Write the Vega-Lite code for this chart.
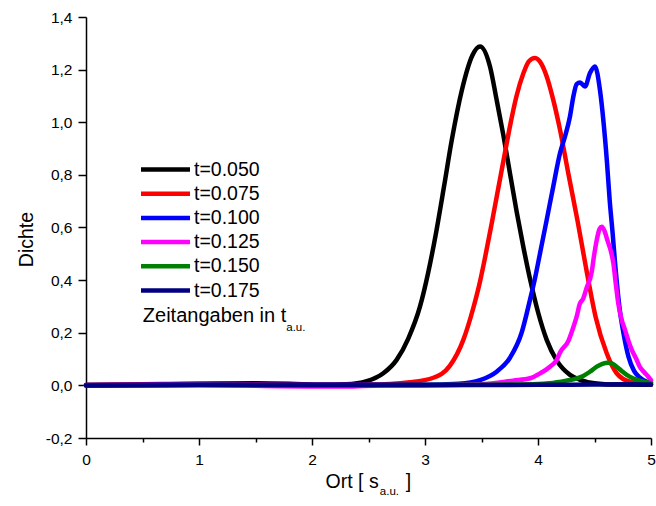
{
  "$schema": "https://vega.github.io/schema/vega-lite/v6.json",
  "width": 565,
  "height": 421,
  "autosize": {"type": "none"},
  "padding": {"left": 86, "top": 17, "right": 5, "bottom": 68},
  "background": "white",
  "config": {
    "view": {"stroke": null},
    "font": "Liberation Sans",
    "axis": {
      "grid": false,
      "domainColor": "black",
      "domainWidth": 1.5,
      "tickColor": "black",
      "tickWidth": 1.5,
      "labelColor": "black",
      "labelFont": "Liberation Sans",
      "labelFontSize": 15.5,
      "titleFont": "Liberation Sans",
      "titleColor": "black",
      "titleFontWeight": "normal",
      "titleFontSize": 19.5
    }
  },
  "datasets": {
    "curves": [
      {"s": "t=0.050", "x": 0, "y": 0.001},
      {"s": "t=0.050", "x": 0.5, "y": 0.003},
      {"s": "t=0.050", "x": 1.0, "y": 0.006},
      {"s": "t=0.050", "x": 1.5, "y": 0.008},
      {"s": "t=0.050", "x": 1.8, "y": 0.006},
      {"s": "t=0.050", "x": 2.1, "y": 0.002},
      {"s": "t=0.050", "x": 2.3, "y": 0.004},
      {"s": "t=0.050", "x": 2.484, "y": 0.016},
      {"s": "t=0.050", "x": 2.631, "y": 0.046},
      {"s": "t=0.050", "x": 2.749, "y": 0.097},
      {"s": "t=0.050", "x": 2.852, "y": 0.178},
      {"s": "t=0.050", "x": 2.956, "y": 0.3},
      {"s": "t=0.050", "x": 3.029, "y": 0.43},
      {"s": "t=0.050", "x": 3.097, "y": 0.578},
      {"s": "t=0.050", "x": 3.168, "y": 0.755},
      {"s": "t=0.050", "x": 3.236, "y": 0.93},
      {"s": "t=0.050", "x": 3.325, "y": 1.12},
      {"s": "t=0.050", "x": 3.42, "y": 1.255},
      {"s": "t=0.050", "x": 3.487, "y": 1.288},
      {"s": "t=0.050", "x": 3.575, "y": 1.212},
      {"s": "t=0.050", "x": 3.634, "y": 1.085},
      {"s": "t=0.050", "x": 3.693, "y": 0.952},
      {"s": "t=0.050", "x": 3.752, "y": 0.806},
      {"s": "t=0.050", "x": 3.811, "y": 0.66},
      {"s": "t=0.050", "x": 3.870, "y": 0.527},
      {"s": "t=0.050", "x": 3.929, "y": 0.405},
      {"s": "t=0.050", "x": 4.003, "y": 0.274},
      {"s": "t=0.050", "x": 4.077, "y": 0.173},
      {"s": "t=0.050", "x": 4.165, "y": 0.095},
      {"s": "t=0.050", "x": 4.283, "y": 0.040},
      {"s": "t=0.050", "x": 4.372, "y": 0.021},
      {"s": "t=0.050", "x": 4.5, "y": 0.008},
      {"s": "t=0.050", "x": 4.7, "y": 0.003},
      {"s": "t=0.050", "x": 5.0, "y": 0.002},

      {"s": "t=0.075", "x": 0, "y": 0.001},
      {"s": "t=0.075", "x": 0.5, "y": 0.004},
      {"s": "t=0.075", "x": 1.0, "y": 0.006},
      {"s": "t=0.075", "x": 1.5, "y": 0.004},
      {"s": "t=0.075", "x": 2.0, "y": 0.002},
      {"s": "t=0.075", "x": 2.5, "y": 0.003},
      {"s": "t=0.075", "x": 2.867, "y": 0.012},
      {"s": "t=0.075", "x": 3.074, "y": 0.029},
      {"s": "t=0.075", "x": 3.221, "y": 0.075},
      {"s": "t=0.075", "x": 3.339, "y": 0.173},
      {"s": "t=0.075", "x": 3.428, "y": 0.295},
      {"s": "t=0.075", "x": 3.487, "y": 0.395},
      {"s": "t=0.075", "x": 3.531, "y": 0.485},
      {"s": "t=0.075", "x": 3.590, "y": 0.615},
      {"s": "t=0.075", "x": 3.649, "y": 0.75},
      {"s": "t=0.075", "x": 3.708, "y": 0.885},
      {"s": "t=0.075", "x": 3.752, "y": 0.985},
      {"s": "t=0.075", "x": 3.810, "y": 1.1},
      {"s": "t=0.075", "x": 3.870, "y": 1.185},
      {"s": "t=0.075", "x": 3.92, "y": 1.232},
      {"s": "t=0.075", "x": 3.973, "y": 1.244},
      {"s": "t=0.075", "x": 4.03, "y": 1.222},
      {"s": "t=0.075", "x": 4.077, "y": 1.174},
      {"s": "t=0.075", "x": 4.135, "y": 1.085},
      {"s": "t=0.075", "x": 4.195, "y": 0.971},
      {"s": "t=0.075", "x": 4.268, "y": 0.806},
      {"s": "t=0.075", "x": 4.350, "y": 0.625},
      {"s": "t=0.075", "x": 4.430, "y": 0.435},
      {"s": "t=0.075", "x": 4.510, "y": 0.26},
      {"s": "t=0.075", "x": 4.608, "y": 0.122},
      {"s": "t=0.075", "x": 4.696, "y": 0.046},
      {"s": "t=0.075", "x": 4.814, "y": 0.014},
      {"s": "t=0.075", "x": 5.0, "y": 0.004},

      {"s": "t=0.100", "x": 0, "y": 0.001},
      {"s": "t=0.100", "x": 1.0, "y": 0.003},
      {"s": "t=0.100", "x": 2.0, "y": 0.002},
      {"s": "t=0.100", "x": 3.0, "y": 0.002},
      {"s": "t=0.100", "x": 3.3, "y": 0.006},
      {"s": "t=0.100", "x": 3.487, "y": 0.02},
      {"s": "t=0.100", "x": 3.634, "y": 0.052},
      {"s": "t=0.100", "x": 3.752, "y": 0.105},
      {"s": "t=0.100", "x": 3.855, "y": 0.2},
      {"s": "t=0.100", "x": 3.929, "y": 0.325},
      {"s": "t=0.100", "x": 3.975, "y": 0.41},
      {"s": "t=0.100", "x": 4.018, "y": 0.502},
      {"s": "t=0.100", "x": 4.077, "y": 0.629},
      {"s": "t=0.100", "x": 4.135, "y": 0.756},
      {"s": "t=0.100", "x": 4.195, "y": 0.883},
      {"s": "t=0.100", "x": 4.239, "y": 0.946},
      {"s": "t=0.100", "x": 4.283, "y": 1.022},
      {"s": "t=0.100", "x": 4.313, "y": 1.098},
      {"s": "t=0.100", "x": 4.342, "y": 1.145},
      {"s": "t=0.100", "x": 4.372, "y": 1.151},
      {"s": "t=0.100", "x": 4.416, "y": 1.136},
      {"s": "t=0.100", "x": 4.460, "y": 1.187},
      {"s": "t=0.100", "x": 4.504, "y": 1.212},
      {"s": "t=0.100", "x": 4.549, "y": 1.12},
      {"s": "t=0.100", "x": 4.58, "y": 1.0},
      {"s": "t=0.100", "x": 4.61, "y": 0.85},
      {"s": "t=0.100", "x": 4.635, "y": 0.70},
      {"s": "t=0.100", "x": 4.66, "y": 0.58},
      {"s": "t=0.100", "x": 4.685, "y": 0.45},
      {"s": "t=0.100", "x": 4.72, "y": 0.30},
      {"s": "t=0.100", "x": 4.76, "y": 0.19},
      {"s": "t=0.100", "x": 4.80, "y": 0.11},
      {"s": "t=0.100", "x": 4.85, "y": 0.055},
      {"s": "t=0.100", "x": 4.90, "y": 0.03},
      {"s": "t=0.100", "x": 4.96, "y": 0.014},
      {"s": "t=0.100", "x": 5.0, "y": 0.01},

      {"s": "t=0.125", "x": 0, "y": 0.0},
      {"s": "t=0.125", "x": 1.0, "y": 0.001},
      {"s": "t=0.125", "x": 2.0, "y": -0.004},
      {"s": "t=0.125", "x": 2.3, "y": -0.004},
      {"s": "t=0.125", "x": 2.6, "y": 0.0},
      {"s": "t=0.125", "x": 3.0, "y": 0.0},
      {"s": "t=0.125", "x": 3.5, "y": 0.004},
      {"s": "t=0.125", "x": 3.78, "y": 0.018},
      {"s": "t=0.125", "x": 3.93, "y": 0.027},
      {"s": "t=0.125", "x": 4.02, "y": 0.046},
      {"s": "t=0.125", "x": 4.106, "y": 0.071},
      {"s": "t=0.125", "x": 4.166, "y": 0.097},
      {"s": "t=0.125", "x": 4.195, "y": 0.125},
      {"s": "t=0.125", "x": 4.27, "y": 0.17},
      {"s": "t=0.125", "x": 4.30, "y": 0.205},
      {"s": "t=0.125", "x": 4.342, "y": 0.261},
      {"s": "t=0.125", "x": 4.37, "y": 0.31},
      {"s": "t=0.125", "x": 4.40, "y": 0.33},
      {"s": "t=0.125", "x": 4.43, "y": 0.37},
      {"s": "t=0.125", "x": 4.475, "y": 0.43},
      {"s": "t=0.125", "x": 4.495, "y": 0.49},
      {"s": "t=0.125", "x": 4.52, "y": 0.553},
      {"s": "t=0.125", "x": 4.545, "y": 0.595},
      {"s": "t=0.125", "x": 4.565, "y": 0.603},
      {"s": "t=0.125", "x": 4.59, "y": 0.585},
      {"s": "t=0.125", "x": 4.615, "y": 0.55},
      {"s": "t=0.125", "x": 4.645, "y": 0.51},
      {"s": "t=0.125", "x": 4.667, "y": 0.464},
      {"s": "t=0.125", "x": 4.69, "y": 0.38},
      {"s": "t=0.125", "x": 4.71, "y": 0.312},
      {"s": "t=0.125", "x": 4.74, "y": 0.25},
      {"s": "t=0.125", "x": 4.77, "y": 0.211},
      {"s": "t=0.125", "x": 4.80, "y": 0.17},
      {"s": "t=0.125", "x": 4.83, "y": 0.135},
      {"s": "t=0.125", "x": 4.87, "y": 0.10},
      {"s": "t=0.125", "x": 4.90, "y": 0.071},
      {"s": "t=0.125", "x": 4.94, "y": 0.05},
      {"s": "t=0.125", "x": 4.976, "y": 0.033},
      {"s": "t=0.125", "x": 5.0, "y": 0.02},

      {"s": "t=0.150", "x": 0, "y": 0.0},
      {"s": "t=0.150", "x": 1.0, "y": 0.001},
      {"s": "t=0.150", "x": 2.0, "y": 0.0},
      {"s": "t=0.150", "x": 3.0, "y": 0.001},
      {"s": "t=0.150", "x": 3.5, "y": 0.002},
      {"s": "t=0.150", "x": 4.0, "y": 0.005},
      {"s": "t=0.150", "x": 4.1, "y": 0.008},
      {"s": "t=0.150", "x": 4.25, "y": 0.018},
      {"s": "t=0.150", "x": 4.33, "y": 0.025},
      {"s": "t=0.150", "x": 4.40, "y": 0.036},
      {"s": "t=0.150", "x": 4.46, "y": 0.052},
      {"s": "t=0.150", "x": 4.52, "y": 0.071},
      {"s": "t=0.150", "x": 4.57, "y": 0.082},
      {"s": "t=0.150", "x": 4.622, "y": 0.086},
      {"s": "t=0.150", "x": 4.66, "y": 0.082},
      {"s": "t=0.150", "x": 4.696, "y": 0.071},
      {"s": "t=0.150", "x": 4.74, "y": 0.055},
      {"s": "t=0.150", "x": 4.785, "y": 0.04},
      {"s": "t=0.150", "x": 4.84, "y": 0.027},
      {"s": "t=0.150", "x": 4.90, "y": 0.018},
      {"s": "t=0.150", "x": 5.0, "y": 0.008},

      {"s": "t=0.175", "x": 0, "y": 0.0},
      {"s": "t=0.175", "x": 1.0, "y": 0.001},
      {"s": "t=0.175", "x": 2.0, "y": 0.001},
      {"s": "t=0.175", "x": 3.0, "y": 0.001},
      {"s": "t=0.175", "x": 4.0, "y": 0.002},
      {"s": "t=0.175", "x": 4.5, "y": 0.003},
      {"s": "t=0.175", "x": 4.8, "y": 0.004},
      {"s": "t=0.175", "x": 5.0, "y": 0.003}
    ]
  },
  "layer": [
    {
      "data": {"name": "curves"},
      "mark": {"type": "line", "strokeWidth": 4.5, "interpolate": "monotone", "strokeCap": "round", "strokeJoin": "round"},
      "encoding": {
        "x": {
          "field": "x", "type": "quantitative",
          "scale": {"domain": [0, 5], "nice": false, "zero": false},
          "axis": {
            "title": null,
            "values": [0, 0.5, 1, 1.5, 2, 2.5, 3, 3.5, 4, 4.5, 5],
            "labelExpr": "datum.value % 1 == 0 ? format(datum.value, 'd') : ''",
            "tickSize": {"condition": {"test": "datum.value % 1 == 0", "value": 7}, "value": 4},
            "labelPadding": 7,
            "labelFlush": false,
            "labelOverlap": false
          }
        },
        "y": {
          "field": "y", "type": "quantitative",
          "scale": {"domain": [-0.2, 1.4], "nice": false, "zero": false},
          "axis": {
            "title": "Dichte",
            "titleBaseline": "alphabetic",
            "titleX": -54,
            "titleY": 222,
            "values": [-0.2, -0.1, 0, 0.1, 0.2, 0.3, 0.4, 0.5, 0.6, 0.7, 0.8, 0.9, 1, 1.1, 1.2, 1.3, 1.4],
            "labelExpr": "abs(datum.value * 5 - round(datum.value * 5)) < 0.001 ? replace(replace(format(datum.value, '.1f'), '.', ','), '−', '-') : ''",
            "tickSize": {"condition": {"test": "abs(datum.value * 5 - round(datum.value * 5)) < 0.001", "value": 8}, "value": 4.5},
            "labelPadding": 6,
            "labelFlush": false,
            "labelOverlap": false
          }
        },
        "color": {
          "field": "s", "type": "nominal",
          "scale": {
            "domain": ["t=0.050", "t=0.075", "t=0.100", "t=0.125", "t=0.150", "t=0.175"],
            "range": ["#000000", "#ff0000", "#0000ff", "#ff00ff", "#008000", "#000080"]
          },
          "legend": {
            "title": null,
            "orient": "none",
            "legendX": 67,
            "legendY": 140,
            "symbolType": "M-2.5,0H2.5",
            "symbolSize": 384,
            "symbolStrokeWidth": 4.5,
            "labelFont": "Liberation Sans",
            "labelFontSize": 19.5,
            "labelColor": "black",
            "labelOffset": 16,
            "rowPadding": 2.2
          }
        }
      }
    },
    {
      "data": {"values": [{}]},
      "mark": {"type": "text", "align": "right", "baseline": "alphabetic", "fontSize": 20, "font": "Liberation Sans", "color": "black"},
      "encoding": {"x": {"datum": 1.772}, "y": {"datum": 0.242}, "text": {"value": "Zeitangaben in t"}}
    },
    {
      "data": {"values": [{}]},
      "mark": {"type": "text", "align": "left", "baseline": "alphabetic", "fontSize": 11.5, "font": "Liberation Sans", "color": "black"},
      "encoding": {"x": {"datum": 1.772}, "y": {"datum": 0.207}, "text": {"value": "a.u."}}
    },
    {
      "data": {"values": [{}]},
      "mark": {"type": "text", "align": "right", "baseline": "alphabetic", "fontSize": 19.5, "font": "Liberation Sans", "color": "black"},
      "encoding": {"x": {"datum": 2.59}, "y": {"datum": -0.39}, "text": {"value": "Ort [ s"}}
    },
    {
      "data": {"values": [{}]},
      "mark": {"type": "text", "align": "left", "baseline": "alphabetic", "fontSize": 11.5, "font": "Liberation Sans", "color": "black"},
      "encoding": {"x": {"datum": 2.6}, "y": {"datum": -0.417}, "text": {"value": "a.u."}}
    },
    {
      "data": {"values": [{}]},
      "mark": {"type": "text", "align": "left", "baseline": "alphabetic", "fontSize": 19.5, "font": "Liberation Sans", "color": "black"},
      "encoding": {"x": {"datum": 2.83}, "y": {"datum": -0.39}, "text": {"value": "]"}}
    }
  ]
}
